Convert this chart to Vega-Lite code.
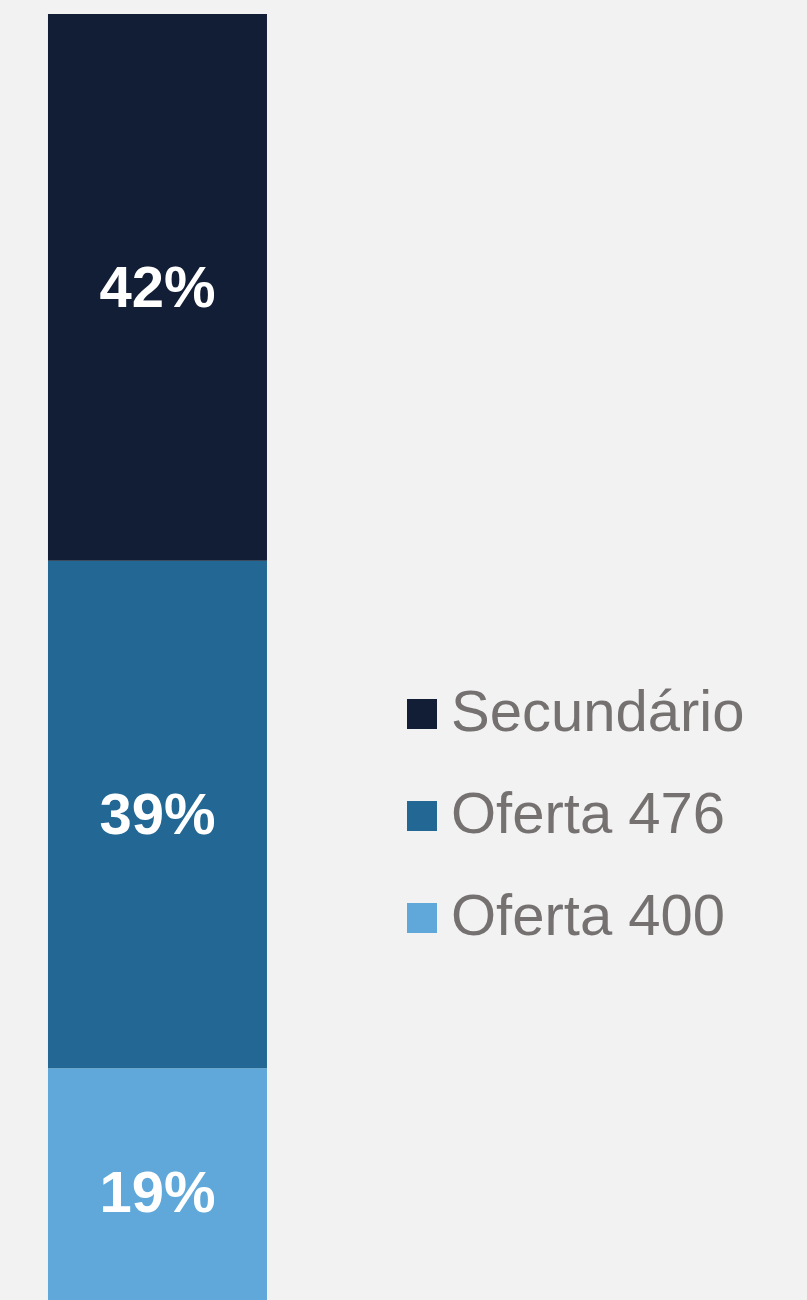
{
  "$schema": "https://vega.github.io/schema/vega-lite/v6.json",
  "width": 807,
  "height": 1300,
  "padding": 0,
  "autosize": {"type": "none"},
  "background": "#f2f2f2",
  "config": {"view": {"stroke": null}},
  "data": {
    "values": [
      {"grupo": "Total", "tipo": "Oferta 400", "valor": 19, "rotulo": "19%", "ordem": 1},
      {"grupo": "Total", "tipo": "Oferta 476", "valor": 39, "rotulo": "39%", "ordem": 2},
      {"grupo": "Total", "tipo": "Secundário", "valor": 42, "rotulo": "42%", "ordem": 3}
    ]
  },
  "encoding": {
    "x": {
      "field": "grupo",
      "type": "nominal",
      "axis": null,
      "scale": {"paddingInner": 0.2551, "paddingOuter": 1, "align": 0.0816}
    },
    "y": {
      "field": "valor",
      "type": "quantitative",
      "stack": "zero",
      "axis": null,
      "scale": {"domain": [1.19, 101.08], "nice": false, "zero": false}
    },
    "order": {"field": "ordem", "type": "quantitative"}
  },
  "layer": [
    {
      "mark": {"type": "bar", "clip": true},
      "encoding": {
        "color": {
          "field": "tipo",
          "type": "nominal",
          "scale": {
            "domain": ["Secundário", "Oferta 476", "Oferta 400"],
            "range": ["#121e36", "#236894", "#5fa8d9"]
          },
          "legend": {
            "title": null,
            "orient": "none",
            "legendX": 393,
            "legendY": 685,
            "symbolType": "square",
            "symbolSize": 900,
            "symbolStrokeWidth": 0,
            "labelFontSize": 58,
            "labelFont": "Liberation Sans",
            "labelColor": "#767171",
            "labelOffset": 0,
            "rowPadding": 44,
            "labelLimit": 400
          }
        }
      }
    },
    {
      "mark": {
        "type": "text",
        "font": "Liberation Sans",
        "fontWeight": "bold",
        "fontSize": 58,
        "color": "#ffffff",
        "baseline": "middle",
        "align": "center",
        "dy": 3
      },
      "encoding": {
        "y": {"field": "valor", "type": "quantitative", "stack": "zero", "bandPosition": 0.5},
        "text": {"field": "rotulo"}
      }
    }
  ]
}
